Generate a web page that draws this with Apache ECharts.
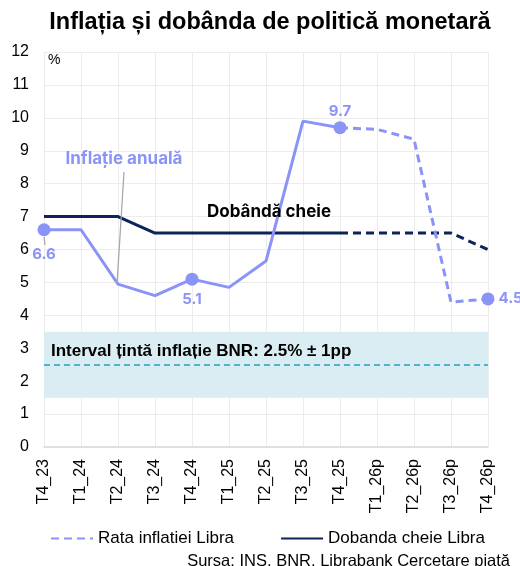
<!DOCTYPE html>
<html>
<head>
<meta charset="utf-8">
<script src="https://cdn.jsdelivr.net/npm/echarts@6/dist/echarts.min.js"></script>
<style>html,body{margin:0;padding:0;background:#fff}#c{width:520px;height:566px}</style>
</head>
<body>
<div id="c"></div>
<script>
const categories = ["T4_23","T1_24","T2_24","T3_24","T4_24","T1_25","T2_25","T3_25","T4_25","T1_26p","T2_26p","T3_26p","T4_26p"]
const inflatieEfectiva = [6.6,6.6,4.95,4.6,5.1,4.85,5.65,9.9,9.7,"-","-","-","-"]
const inflatiePrognoza = ["-","-","-","-","-","-","-","-",9.7,9.65,9.35,4.4,4.5]
const dobandaEfectiva = [7,7,7,6.5,6.5,6.5,6.5,6.5,6.5,"-","-","-","-"]
const dobandaPrognoza = ["-","-","-","-","-","-","-","-",6.5,6.5,6.5,6.5,6.0]
const yTicks = [0,1,2,3,4,5,6,7,8,9,10,11,12]
const tinta = [1.5, 2.5, 3.5]
// puncte marcate cu eticheta: index -> [pozitie, distanta]
const marcaje = {0:["bottom",11],4:["bottom",6],8:["top",2],12:["right",4]}

const lilac = "#8a93f7", navy = "#0c2459"
const font = "Liberation Sans"

function cuMarcaje(arr, skip) {
  return arr.map((v, i) => {
    if (v === "-" || marcaje[i] === undefined || skip(i)) return v
    return {value: v, symbol: "circle", symbolSize: 13,
      label: {show: true, position: marcaje[i][0], distance: marcaje[i][1], formatter: p => p.value.toFixed(1),
        color: lilac, fontFamily: "Inter", fontWeight: "bold", fontSize: 15}}
  })
}

const chart = echarts.init(document.getElementById("c"))
chart.setOption({
  animation: false,
  title: {text: "Inflația și dobânda de politică monetară", left: 265, top: 6, textAlign: "center",
    textStyle: {fontFamily: font, fontWeight: "bold", fontSize: 23.5, color: "#000"}},
  grid: {left: 44, right: 32, top: 52, bottom: 119, containLabel: false},
  legend: {bottom: 14, left: 45, itemWidth: 42, itemHeight: 12, itemGap: 46,
    textStyle: {fontFamily: font, fontSize: 17, color: "#000"},
    data: [{name: "Rata inflatiei Libra", itemStyle: {opacity: 0}},
      {name: "Dobanda cheie Libra", itemStyle: {opacity: 0}, lineStyle: {type: "solid"}}]},
  xAxis: {type: "category", data: categories, boundaryGap: false,
    axisLine: {lineStyle: {color: "#d9d9d9", width: 1.5}}, axisTick: {show: false},
    axisLabel: {rotate: 90, margin: 12, fontFamily: font, fontSize: 16, color: "#000"},
    splitLine: {show: true, lineStyle: {color: "#ececec"}}},
  yAxis: {type: "value", min: yTicks[0], max: yTicks[yTicks.length - 1], interval: 1,
    axisLine: {show: false}, axisTick: {show: false},
    axisLabel: {margin: 15, fontFamily: font, fontSize: 16, color: "#000"},
    splitLine: {lineStyle: {color: "#ececec"}}},
  series: [
    {name: "target", type: "line", data: [], silent: true,
      markArea: {silent: true, itemStyle: {color: "#daedf2"}, data: [[{yAxis: tinta[0]}, {yAxis: tinta[2]}]]},
      markLine: {silent: true, symbol: "none", label: {show: false},
        lineStyle: {color: "#4db3cf", type: [6, 4], width: 2}, data: [{yAxis: tinta[1]}]}},
    {name: "Dobanda efectiva", type: "line", data: dobandaEfectiva, symbol: "none",
      lineStyle: {color: navy, width: 3}, itemStyle: {color: navy}, z: 3},
    {name: "Dobanda cheie Libra", type: "line", data: dobandaPrognoza, symbol: "none",
      lineStyle: {color: navy, width: 3, type: [8, 5]}, itemStyle: {color: navy}, z: 3},
    {name: "Inflatie efectiva", type: "line", data: cuMarcaje(inflatieEfectiva, i => i === 8), symbol: "none",
      lineStyle: {color: lilac, width: 3}, itemStyle: {color: lilac}, z: 4},
    {name: "Rata inflatiei Libra", type: "line", data: cuMarcaje(inflatiePrognoza, () => false), symbol: "none",
      lineStyle: {color: lilac, width: 3, type: [8, 5]}, itemStyle: {color: lilac}, z: 4}
  ],
  graphic: {elements: [
    {type: "text", left: 48, top: 53, z: 100, style: {text: "%", fontFamily: font, fontSize: 14, fill: "#000"}},
    {type: "line", z: 100, shape: {x1: 124, y1: 172, x2: 117, y2: 284}, style: {stroke: "#a6a6a6", lineWidth: 1.2}},
    {type: "line", z: 100, shape: {x1: 44, y1: 237, x2: 45, y2: 245}, style: {stroke: "#a6a6a6", lineWidth: 1.2}},
    {type: "text", z: 100, x: 124, y: 150, style: {text: "Inflație anuală", textAlign: "center", fontFamily: "Inter", fontWeight: "bold", fontSize: 17, fill: lilac}},
    {type: "text", z: 100, x: 269, y: 203, style: {text: "Dobândă cheie", textAlign: "center", fontFamily: "Inter", fontWeight: "bold", fontSize: 17, fill: "#000"}},
    {type: "text", z: 100, x: 51, y: 343, style: {text: "Interval țintă inflație BNR: 2.5% ± 1pp", fontFamily: font, fontWeight: "bold", fontSize: 17, fill: "#000"}},
    {type: "text", z: 100, right: 10, top: 553, style: {text: "Sursa: INS, BNR, Librabank Cercetare piață", fontFamily: font, fontSize: 16.5, fill: "#000"}}
  ]}
})
</script>
</body>
</html>
